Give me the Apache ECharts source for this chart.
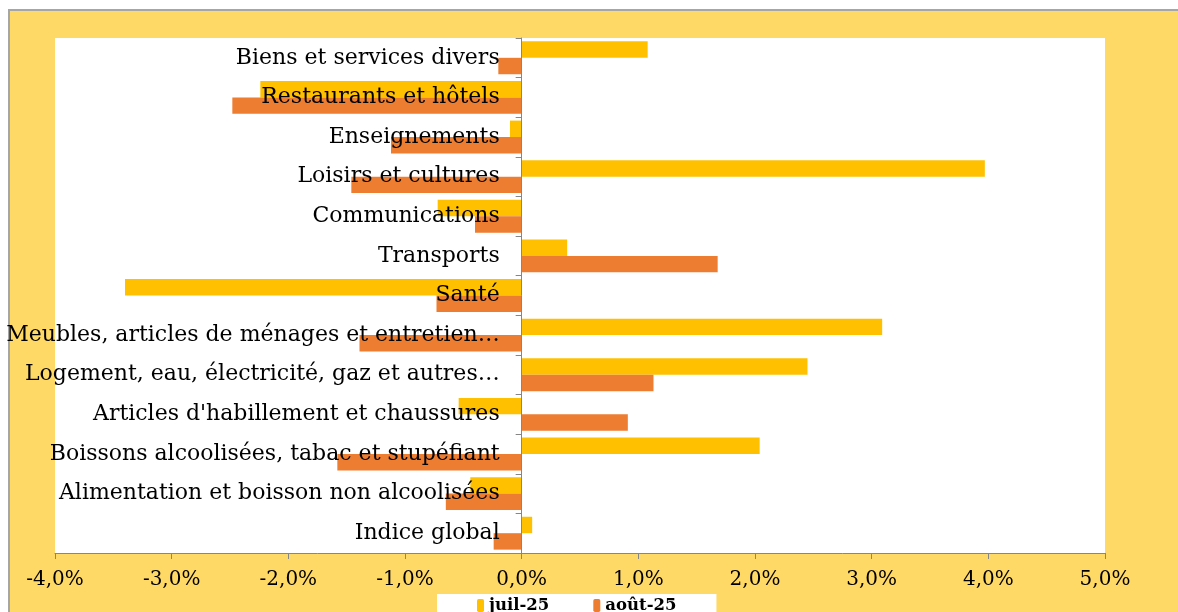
<!DOCTYPE html>
<html><head><meta charset="utf-8">
<script src="https://cdn.jsdelivr.net/npm/echarts@6/dist/echarts.min.js"></script>
<style>
html,body{margin:0;padding:0;background:#fff;}
#frame{position:absolute;left:8px;top:9px;width:1200px;height:620px;background:#FFD966;border-left:2px solid #A6A6A6;border-top:2px solid #A6A6A6;}
#chart{position:absolute;left:0;top:0;width:1178px;height:612px;}
</style></head>
<body>
<div id="frame"></div>
<div id="chart"></div>
<script>
var categories = [
  "Biens et services divers",
  "Restaurants et hôtels",
  "Enseignements",
  "Loisirs et cultures",
  "Communications",
  "Transports",
  "Santé",
  "Meubles, articles de ménages et entretien…",
  "Logement, eau, électricité, gaz et autres…",
  "Articles d'habillement et chaussures",
  "Boissons alcoolisées, tabac et stupéfiant",
  "Alimentation et boisson non alcoolisées",
  "Indice global"
];
var juil25 = [1.08, -2.24, -0.10, 3.97, -0.72, 0.39, -3.40, 3.09, 2.45, -0.54, 2.04, -0.44, 0.09];
var aout25 = [-0.20, -2.48, -1.12, -1.46, -0.40, 1.68, -0.73, -1.39, 1.13, 0.91, -1.58, -0.65, -0.24];
var seriesNames = ["juil-25", "août-25"];
var xTicks = {min: -4, max: 5, interval: 1};

var font = "DejaVu Serif";
var gridLeft = 55, gridRight = 73, W = 1178;
var plotW = W - gridLeft - gridRight;
var zeroOffset = plotW * (0 - xTicks.min) / (xTicks.max - xTicks.min);

var chart = echarts.init(document.getElementById('chart'));
chart.setOption({
  animation: false,
  grid: {left: gridLeft, right: gridRight, top: 38, bottom: 59, show: true, backgroundColor: '#fff', borderWidth: 0,
         containLabel: false, outerBoundsMode: 'none'},
  legend: {
    data: seriesNames,
    top: 594, left: 437,
    backgroundColor: '#fff',
    padding: [3, 40, 10, 40],
    itemWidth: 7, itemHeight: 13, itemGap: 44,
    textStyle: {fontFamily: font, fontWeight: 'bold', fontSize: 16.5, color: '#000'}
  },
  xAxis: {
    type: 'value', min: xTicks.min, max: xTicks.max, interval: xTicks.interval,
    axisLine: {show: true, lineStyle: {color: '#868686', width: 1}},
    axisTick: {show: true, length: 6, lineStyle: {color: '#868686'}},
    splitLine: {show: false},
    axisLabel: {fontFamily: font, fontSize: 20, color: '#000', margin: 17,
      formatter: function (v) { return v.toFixed(1).replace('.', ',') + '%'; }}
  },
  yAxis: {
    type: 'category', data: categories, inverse: true, z: 5,
    position: 'left', offset: -zeroOffset,
    axisLine: {show: true, onZero: false, lineStyle: {color: '#868686', width: 1}},
    axisTick: {show: true, length: 6, lineStyle: {color: '#868686'}},
    axisLabel: {fontFamily: font, fontSize: 22, color: '#000', margin: 22}
  },
  series: [
    {name: seriesNames[0], type: 'bar', data: juil25, itemStyle: {color: '#FFC000'}, barGap: '0%', barCategoryGap: '17%'},
    {name: seriesNames[1], type: 'bar', data: aout25, itemStyle: {color: '#ED7D31'}, barGap: '0%', barCategoryGap: '17%'}
  ]
});
</script>
</body></html>
